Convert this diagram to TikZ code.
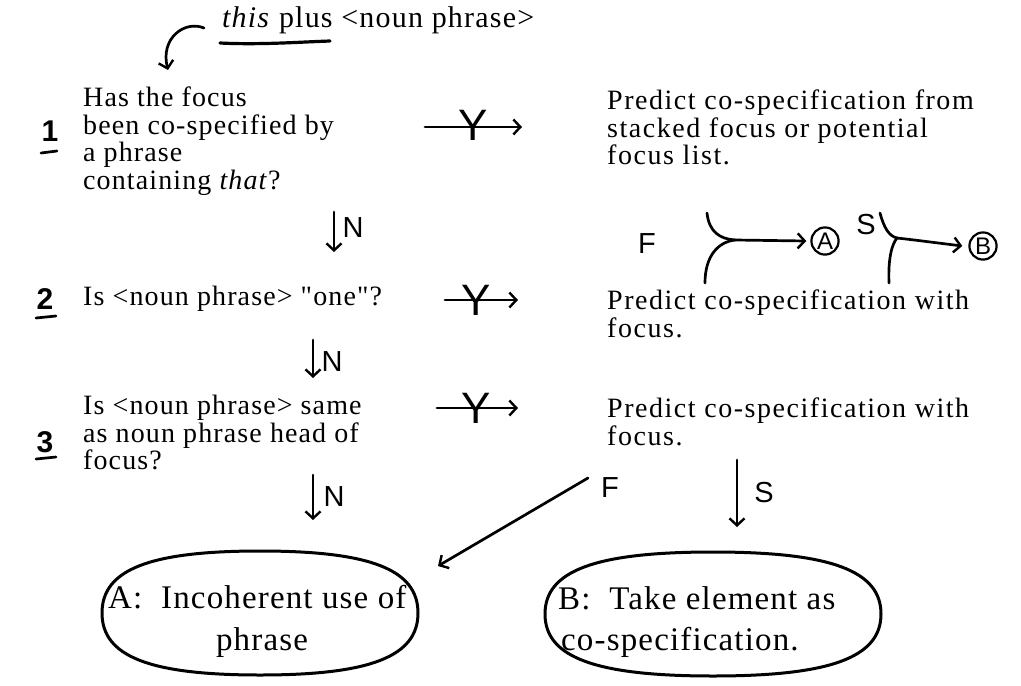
\documentclass[tikz,border=0pt]{standalone}
\usepackage{fontspec}
\setmainfont{Liberation Serif}[LetterSpace=4, Ligatures=TeXOff]
\newfontfamily\handfont{Liberation Sans}
\usetikzlibrary{arrows.meta,shapes.geometric}
\begin{document}
\begin{tikzpicture}[x=1pt,y=-1pt,
  txt/.style={anchor=north west, inner sep=0pt, align=left, font=\fontsize{28}{27.5}\selectfont},
  rtxt/.style={txt, font=\addfontfeature{LetterSpace=5.5}\fontsize{28}{27.5}\selectfont},
  line/.style={anchor=base west, inner sep=0pt, font=\fontsize{28}{27.5}\selectfont},
  big/.style={anchor=base west, inner sep=0pt, font=\addfontfeature{LetterSpace=3.5}\fontsize{33}{33}\selectfont},
  hand/.style={line width=2.7pt, line cap=round, line join=round},
  harrow/.style={hand, -{Straight Barb[length=7pt,width=15pt,line width=2.4pt]}},
  lbl/.style={inner sep=0pt, font=\handfont\fontsize{29}{29}\selectfont},
  ylbl/.style={inner sep=0pt, font=\handfont\fontsize{44}{44}\selectfont},
  num/.style={inner sep=0pt, font=\handfont\bfseries\fontsize{30}{30}\selectfont},
  circ/.style={circle, draw, line width=2.2pt, inner sep=1.5pt, font=\handfont\fontsize{24}{24}\selectfont},
  oval/.style={line width=3pt, line join=round}
]
\useasboundingbox[fill=white] (0,0) rectangle (1021,686);

% top
\node[line, font=\fontsize{30}{30}\selectfont] (top) at (222,27) {\textit{this} plus <noun phrase>};
\coordinate (ul1) at (220,43);
\coordinate (ul2) at (330,41);
\draw[hand, line width=3.2pt] (ul1) .. controls (260,45) and (300,42) .. (ul2);
\coordinate (ca1) at (204,28);
\coordinate (ca2) at (168,70);
\draw[harrow] (ca1) .. controls (185,20) and (160,38) .. (ca2);

% step numbers
\node[num] (n1) at (50,131) {1};
\draw[hand] (41,153) -- (57,151);
\node[num] (n2) at (45,299) {2};
\draw[hand] (36,318) -- (56,316);
\node[num] (n3) at (45,442) {3};
\draw[hand] (36,459) -- (56,457);

% questions
\node[txt] (q1) at (83,87) {Has the focus\\been co-specified by\\a phrase\\containing \textit{that}?};
\node[txt] (q2) at (83,286) {Is <noun phrase> "one"?};
\node[txt] (q3) at (83,395) {Is <noun phrase> same\\as noun phrase head of\\focus?};

% predictions
\node[rtxt] (p1) at (607,90) {Predict co-specification from\\stacked focus or potential\\focus list.};
\node[rtxt] (p2) at (607,290) {Predict co-specification with\\focus.};
\node[rtxt] (p3) at (607,398) {Predict co-specification with\\focus.};

% Y arrows
\coordinate (y1a) at (425,127); \coordinate (y1b) at (522,127);
\draw[harrow] (y1a) -- (y1b);
\node[ylbl] (y1) at (473,125) {Y};
\coordinate (y2a) at (445,300); \coordinate (y2b) at (518,300);
\draw[harrow] (y2a) -- (y2b);
\node[ylbl] (y2) at (476,300) {Y};
\coordinate (y3a) at (437,408); \coordinate (y3b) at (518,408);
\draw[harrow] (y3a) -- (y3b);
\node[ylbl] (y3) at (476,408) {Y};

% N arrows
\coordinate (n1a) at (334,212); \coordinate (n1b) at (334,252);
\draw[harrow] (n1a) -- (n1b);
\node[lbl] (nl1) at (353,228) {N};
\coordinate (n2a) at (313,340); \coordinate (n2b) at (313,378);
\draw[harrow] (n2a) -- (n2b);
\node[lbl] (nl2) at (332,362) {N};
\coordinate (n3a) at (313,475); \coordinate (n3b) at (313,520);
\draw[harrow] (n3a) -- (n3b);
\node[lbl] (nl3) at (334,497) {N};

% F / S branches
\node[lbl] (fl) at (647,244) {F};
\coordinate (fj) at (735,240);
\draw[hand] (707,213) .. controls (709,232) and (720,239) .. (fj);
\draw[hand] (705,283) .. controls (705,256) and (718,242) .. (fj);
\node[circ] (ca) at (825,241) {A};
\draw[harrow] (fj) -- ([xshift=-4pt]ca.west);
\node[lbl] (sl) at (866,225) {S};
\coordinate (sj) at (897,238);
\draw[hand] (880,213) .. controls (884,228) and (889,236) .. (sj);
\draw[hand] (889,283) .. controls (888,258) and (892,244) .. (sj);
\node[circ] (cb) at (983,246) {B};
\draw[harrow] (sj) .. controls (915,240) and (930,242) .. ([xshift=-6pt]cb.west);

% outcome ovals (rx, ry with control factor 0.7)
\coordinate (ea) at (260,613);
\coordinate (eb) at (713,614);
\draw[oval] (260,551) .. controls (370.6,551) and (418,569.6) .. (418,613)
  .. controls (418,656.4) and (370.6,675) .. (260,675)
  .. controls (149.4,675) and (102,656.4) .. (102,613)
  .. controls (102,569.6) and (149.4,551) .. cycle;
\draw[oval] (713,552) .. controls (830.6,552) and (881,570.6) .. (881,614)
  .. controls (881,657.4) and (830.6,676) .. (713,676)
  .. controls (595.4,676) and (545,657.4) .. (545,614)
  .. controls (545,570.6) and (595.4,552) .. cycle;
\node[big] (ea1) at (108,608) {A:\ \ Incoherent use of};
\node[big, anchor=base] (ea2) at (262,650) {phrase};
\node[big] (eb1) at (558,609) {B:\ \ Take element as};
\node[big] (eb2) at (561,650) {co-specification.};

% F and S arrows to outcomes
\coordinate (fa) at (588,478); \coordinate (fb) at (438,566);
\draw[harrow] (fa) -- (fb);
\node[lbl] (fl2) at (610,488) {F};
\coordinate (sa) at (737,460); \coordinate (sb) at (737,527);
\draw[harrow] (sa) -- (sb);
\node[lbl] (sl2) at (764,493) {S};
\end{tikzpicture}
\end{document}
